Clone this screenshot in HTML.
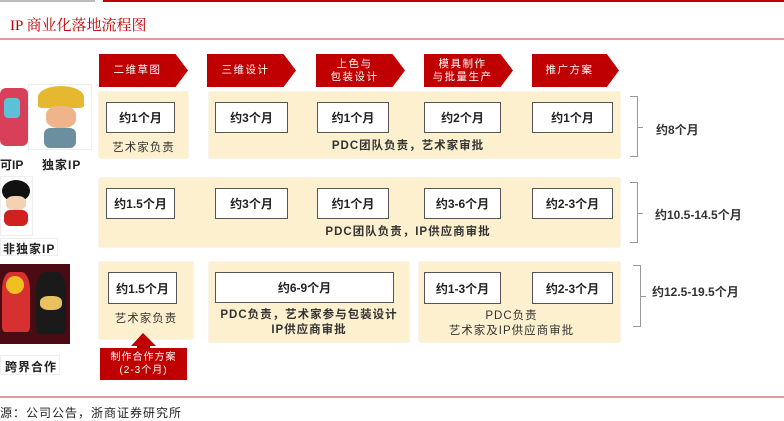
<!DOCTYPE html>
<html><head><meta charset="utf-8"><style>
*{margin:0;padding:0;box-sizing:border-box}
body{width:784px;height:415px;position:relative;overflow:hidden;background:#fff;font-family:"Liberation Sans","Noto Sans CJK SC",sans-serif;color:#222}
.a{position:absolute}
.bg{position:absolute;background:#fdf0cf;box-shadow:0 0 1px #d8c9a0}
.w{position:absolute;background:#fff;border:1.5px solid #555;font-size:12px;font-weight:bold;display:flex;align-items:center;justify-content:center}
.t{position:absolute;font-size:11.5px;text-align:center;letter-spacing:1px;line-height:15px;color:#333}
.ch{position:absolute;top:54px;height:33px;background:#c00000;color:#fff;font-size:10.5px;letter-spacing:1.5px;line-height:13px;display:flex;align-items:center;justify-content:center;clip-path:polygon(0 0,86% 0,100% 50%,86% 100%,0 100%);padding-right:12px;text-align:center}
.br{position:absolute;width:8px;border:1px solid #999;border-left:none}
.br:after{content:"";position:absolute;left:8px;top:50%;width:5px;border-top:1px solid #999}
.lab{position:absolute;font-size:12px;font-weight:bold;color:#333}
</style></head><body>
<div class="a" style="left:103px;top:0;width:681px;height:2px;background:#c00000"></div>
<div class="a" style="left:0;top:0;width:95px;height:2px;background:#bbb"></div>
<div class="a" style="left:10px;top:14px;font-size:15px;color:#c00000;font-family:'Liberation Serif','Noto Serif CJK SC',serif">IP 商业化落地流程图</div>
<div class="a" style="left:0;top:38px;width:784px;height:1.5px;background:#e59a9a"></div>

<div class="ch" style="left:99px;width:89px">二维草图</div>
<div class="ch" style="left:207px;width:89px">三维设计</div>
<div class="ch" style="left:316px;width:89px">上色与<br>包装设计</div>
<div class="ch" style="left:424px;width:89px">模具制作<br>与批量生产</div>
<div class="ch" style="left:532px;width:87px">推广方案</div>

<!-- row 1 -->
<div class="bg" style="left:99px;top:92px;width:89px;height:66px"></div>
<div class="bg" style="left:209px;top:92px;width:411px;height:66px"></div>
<div class="w" style="left:106px;top:102px;width:69px;height:31px">约1个月</div>
<div class="w" style="left:215px;top:102px;width:73px;height:31px">约3个月</div>
<div class="w" style="left:317px;top:102px;width:72px;height:31px">约1个月</div>
<div class="w" style="left:424px;top:102px;width:77px;height:31px">约2个月</div>
<div class="w" style="left:532px;top:102px;width:81px;height:31px">约1个月</div>
<div class="t" style="left:99px;top:141px;width:89px">艺术家负责</div>
<div class="t" style="left:209px;top:139px;width:398px;font-weight:bold">PDC团队负责，艺术家审批</div>
<div class="br" style="left:630px;top:96px;height:61px"></div>
<div class="lab" style="left:656px;top:121px">约8个月</div>

<!-- row 2 -->
<div class="bg" style="left:99px;top:178px;width:521px;height:69px"></div>
<div class="w" style="left:106px;top:188px;width:69px;height:31px">约1.5个月</div>
<div class="w" style="left:215px;top:188px;width:73px;height:31px">约3个月</div>
<div class="w" style="left:317px;top:188px;width:72px;height:31px">约1个月</div>
<div class="w" style="left:424px;top:188px;width:77px;height:31px">约3-6个月</div>
<div class="w" style="left:532px;top:188px;width:81px;height:31px">约2-3个月</div>
<div class="t" style="left:209px;top:225px;width:398px;font-weight:bold">PDC团队负责，IP供应商审批</div>
<div class="br" style="left:630px;top:182px;height:61px"></div>
<div class="lab" style="left:655px;top:206px">约10.5-14.5个月</div>

<!-- row 3 -->
<div class="bg" style="left:99px;top:262px;width:94px;height:77px"></div>
<div class="bg" style="left:209px;top:262px;width:200px;height:80px"></div>
<div class="bg" style="left:419px;top:262px;width:201px;height:80px"></div>
<div class="w" style="left:108px;top:272px;width:69px;height:32px">约1.5个月</div>
<div class="w" style="left:215px;top:272px;width:179px;height:31px">约6-9个月</div>
<div class="w" style="left:424px;top:272px;width:77px;height:32px">约1-3个月</div>
<div class="w" style="left:532px;top:272px;width:81px;height:32px">约2-3个月</div>
<div class="t" style="left:99px;top:312px;width:94px">艺术家负责</div>
<div class="t" style="left:209px;top:308px;width:200px;font-weight:bold">PDC负责，艺术家参与包装设计<br>IP供应商审批</div>
<div class="t" style="left:419px;top:309px;width:185px">PDC负责<br>艺术家及IP供应商审批</div>
<div class="br" style="left:633px;top:265px;height:62px"></div>
<div class="lab" style="left:652px;top:283px">约12.5-19.5个月</div>

<!-- up arrow -->
<svg class="a" style="left:0;top:0" width="784" height="415"><polygon points="143,333 156,346 150,346 150,348 187,348 187,380 100,380 100,348 137,348 137,346 131,346" fill="#c00000"/></svg>
<div class="a" style="left:100px;top:348px;width:87px;color:#fff;font-size:10px;text-align:center;line-height:13px;letter-spacing:1px;padding-top:3px">制作合作方案<br>(2-3个月)</div>

<!-- left images -->
<div class="a" style="left:0;top:88px;width:28px;height:58px;background:#d8405a;border-radius:6px"></div>
<div class="a" style="left:4px;top:98px;width:16px;height:20px;background:#5bc0d8;border-radius:4px"></div>
<div class="a" style="left:28px;top:84px;width:64px;height:66px;border:1px solid #eee"></div>
<div class="a" style="left:38px;top:86px;width:46px;height:22px;background:#e6b830;border-radius:50% 50% 10% 10%"></div>
<div class="a" style="left:46px;top:106px;width:30px;height:22px;background:#f0b48a;border-radius:40%"></div>
<div class="a" style="left:44px;top:128px;width:32px;height:20px;background:#6c8fa0;border-radius:6px"></div>
<div class="a" style="left:0;top:156px;font-size:12px;font-weight:bold">可IP</div>
<div class="a" style="left:42px;top:156px;font-size:12px;font-weight:bold;letter-spacing:1px">独家IP</div>

<div class="a" style="left:0;top:176px;width:33px;height:60px;border:1px solid #eee"></div>
<div class="a" style="left:2px;top:180px;width:28px;height:22px;background:#111;border-radius:50%"></div>
<div class="a" style="left:6px;top:196px;width:20px;height:14px;background:#f2d2b0;border-radius:40%"></div>
<div class="a" style="left:4px;top:210px;width:24px;height:16px;background:#d02020;border-radius:6px"></div>
<div class="a" style="left:0;top:238px;width:58px;height:18px;border:1px solid #eee;font-size:12px;font-weight:bold;padding:1px 0 0 2px;letter-spacing:1px">非独家IP</div>

<div class="a" style="left:0;top:264px;width:70px;height:80px;background:#4a0c12"></div>
<div class="a" style="left:2px;top:272px;width:28px;height:60px;background:#d63030;border-radius:30% 30% 10% 10%"></div>
<div class="a" style="left:6px;top:276px;width:18px;height:18px;background:#f0c020;border-radius:50%"></div>
<div class="a" style="left:36px;top:272px;width:30px;height:62px;background:#1a1a1a;border-radius:30% 30% 10% 10%"></div>
<div class="a" style="left:40px;top:296px;width:22px;height:14px;background:#e8c060;border-radius:40%"></div>
<div class="a" style="left:0;top:355px;width:60px;height:20px;border:1px solid #eee;font-size:12px;font-weight:bold;padding:2px 0 0 4px;letter-spacing:1px">跨界合作</div>

<div class="a" style="left:0;top:396px;width:784px;height:1.5px;background:#e59a9a"></div>
<div class="a" style="left:0;top:404px;font-size:12px;color:#222;letter-spacing:1px">源：公司公告，浙商证券研究所</div>
</body></html>
